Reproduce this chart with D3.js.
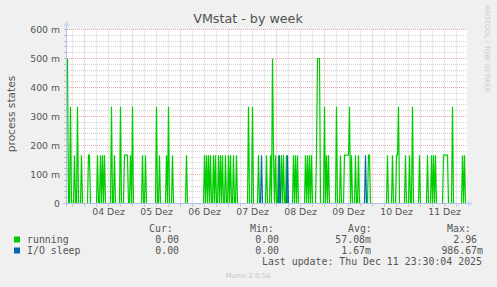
<!DOCTYPE html>
<meta charset="utf-8">
<style>

body {
  margin: 0;
  background: #f0f0f0;
}

text {
  font-family: "DejaVu Sans", sans-serif;
  fill: #555;
}

.legend text {
  font-family: "DejaVu Sans Mono", monospace;
  font-size: 9.9px;
  white-space: pre;
}

.grid--minor {
  stroke: #d2d2d2;
  stroke-width: 1px;
  stroke-dasharray: 1,1;
}

.grid--major {
  stroke: #eaa8a8;
  stroke-width: 1px;
  stroke-dasharray: 1,1;
}

.line {
  fill: none;
  stroke-width: 1.2px;
}

.axis-line {
  stroke: #b0bff0;
  stroke-width: 1px;
}

</style>
<svg width="497" height="287"></svg>
<script src="https://cdn.jsdelivr.net/npm/d3@7"></script>
<script>

// half-hour slots since the start of the graph, values in milli
var runningSlot = [0, 3, 7, 10, 14, 21, 22, 30, 33, 35, 37, 44, 47, 53, 57, 58, 59, 60, 63, 65,
  75, 78, 89, 92, 99, 101, 105, 119,
  137, 139, 141, 143, 146, 148, 151, 153, 155, 158, 161, 163, 166, 169,
  181, 185, 191, 199, 203, 205, 206, 208, 211, 214, 216, 219, 226, 228, 230, 238, 240, 242, 244,
  249, 250, 251, 252, 257, 259, 261, 269, 273, 277, 278, 279, 280, 281, 282, 284, 288, 291,
  301, 302, 320, 325, 329, 330, 331, 338, 342, 345, 352, 360, 364, 366, 368,
  376, 377, 378, 379, 380, 385, 395, 397];
var runningVal = [500, 333.3, 166.7, 333.3, 166.7, 166.7, 166.7, 166.7, 166.7, 166.7, 166.7, 333.3, 166.7, 333.3, 166.7, 166.7, 166.7, 166.7, 166.7, 333.3,
  166.7, 166.7, 333.3, 166.7, 166.7, 333.3, 166.7, 166.7,
  166.7, 166.7, 166.7, 166.7, 166.7, 166.7, 166.7, 166.7, 166.7, 166.7, 166.7, 166.7, 166.7, 166.7,
  333.3, 333.3, 166.7, 166.7, 166.7, 500, 166.7, 166.7, 166.7, 166.7, 166.7, 166.7, 166.7, 166.7, 166.7, 166.7, 166.7, 166.7, 166.7,
  166.7, 500, 500, 500, 333.3, 166.7, 166.7, 333.3, 166.7, 166.7, 166.7, 166.7, 166.7, 166.7, 333.3, 166.7, 166.7, 166.7,
  166.7, 166.7, 166.7, 166.7, 166.7, 166.7, 333.3, 166.7, 166.7, 333.3, 166.7, 166.7, 166.7, 166.7, 166.7,
  166.7, 166.7, 166.7, 166.7, 166.7, 333.3, 166.7, 166.7];

var ioSlot = [194, 212, 220, 298];
var ioVal = [166.7, 166.7, 166.7, 166.7];

var yTicks = [0, 0.1, 0.2, 0.3, 0.4, 0.5, 0.6];

var legendNames = ["running", "I/O sleep"];
var legendColors = ["#00cc00", "#0066b3"];
var curValues = ["0.00 ", "0.00 "];
var minValues = ["0.00 ", "0.00 "];
var avgValues = ["57.08m", " 1.67m"];
var maxValues = ["2.96 ", "986.67m"];

var nSlots = 400,
    slotMs = 30 * 60 * 1000,
    endTime = new Date(Date.UTC(2025, 11, 11, 23, 30)),
    startTime = new Date(endTime.getTime() - nSlots * slotMs);

var de = d3.timeFormatLocale({
  dateTime: "%A, der %e. %B %Y, %X", date: "%d.%m.%Y", time: "%H:%M:%S",
  periods: ["AM", "PM"],
  days: ["Sonntag", "Montag", "Dienstag", "Mittwoch", "Donnerstag", "Freitag", "Samstag"],
  shortDays: ["So", "Mo", "Di", "Mi", "Do", "Fr", "Sa"],
  months: ["Januar", "Februar", "März", "April", "Mai", "Juni", "Juli", "August", "September", "Oktober", "November", "Dezember"],
  shortMonths: ["Jan", "Feb", "Mär", "Apr", "Mai", "Jun", "Jul", "Aug", "Sep", "Okt", "Nov", "Dez"]
});

function series(slots, vals) {
  var byslot = new Map(slots.map(function(s, i) { return [s, vals[i] / 1000]; }));
  return d3.range(nSlots + 1).map(function(i) {
    return { date: new Date(startTime.getTime() + i * slotMs), value: byslot.get(i) || 0 };
  });
}

var running = series(runningSlot, runningVal),
    iosleep = series(ioSlot, ioVal);

var svg = d3.select("svg"),
    plotL = 67, plotR = 467, plotT = 29.5, plotB = 203.5;

var x = d3.scaleUtc()
    .domain([startTime, endTime])
    .range([plotL, plotR]);

var y = d3.scaleLinear()
    .domain([0, 0.6])
    .range([plotB, plotT]);

// canvas
svg.append("rect")
    .attr("x", plotL).attr("y", plotT - 0.5)
    .attr("width", plotR - plotL).attr("height", plotB - plotT)
    .attr("fill", "#fff");

// title
svg.append("text")
    .attr("x", 248).attr("y", 23)
    .attr("text-anchor", "middle")
    .style("font-size", "12.7px")
    .style("fill", "#505050")
    .text("VMstat - by week");

svg.append("text")
    .attr("transform", "translate(15,114) rotate(-90)")
    .attr("text-anchor", "middle")
    .style("font-size", "10.6px")
    .text("process states");

svg.append("text")
    .attr("transform", "translate(485,5) rotate(90)")
    .style("font-size", "6.8px")
    .style("fill", "#c8c8c8")
    .text("RRDTOOL / TOBI OETIKER");

// grid
var grid = svg.append("g");

d3.range(1, 31).forEach(function(k) {
  var v = k * 0.02,
      major = k % 5 === 0,
      yy = Math.round(y(v) - 0.5) + 0.5;
  grid.append("line")
      .attr("class", major ? "grid--major" : "grid--minor")
      .attr("x1", plotL).attr("x2", plotR)
      .attr("y1", yy).attr("y2", yy);
  grid.append("line")
      .attr("stroke", "#bbb")
      .attr("x1", plotL - 3).attr("x2", plotL - 1)
      .attr("y1", yy).attr("y2", yy);
});

x.ticks(d3.utcHour.every(6)).forEach(function(t) {
  var major = t.getUTCHours() === 0;
  var xx = Math.round(x(t)) + 0.5;
  grid.append("line")
      .attr("class", major ? "grid--major" : "grid--minor")
      .attr("x1", xx).attr("x2", xx)
      .attr("y1", plotT).attr("y2", plotB);
  grid.append("line")
      .attr("stroke", "#bbb")
      .attr("x1", xx).attr("x2", xx)
      .attr("y1", plotB + 1).attr("y2", plotB + 3);
});

// data
var line = d3.line()
    .x(function(d) { return x(d.date); })
    .y(function(d) { return y(d.value); });

var plot = svg.append("g").attr("transform", "translate(0.5,0)");

plot.append("path")
    .datum(running)
    .attr("class", "line")
    .attr("stroke", legendColors[0])
    .attr("d", line);

plot.append("path")
    .datum(iosleep)
    .attr("class", "line")
    .attr("stroke", legendColors[1])
    .attr("d", line);

// axes
svg.append("line")
    .attr("class", "axis-line")
    .attr("x1", plotL - 4).attr("x2", plotR + 2)
    .attr("y1", plotB).attr("y2", plotB);

svg.append("line")
    .attr("class", "axis-line")
    .attr("x1", plotL - 0.5).attr("x2", plotL - 0.5)
    .attr("y1", plotB + 3).attr("y2", plotT - 4);

svg.append("path")
    .attr("d", "M" + (plotL - 0.5) + "," + (plotT - 8.5) + "l-3,5h6z")
    .attr("fill", "#cfd6f8");

svg.append("path")
    .attr("d", "M" + (plotR + 6) + "," + plotB + "l-5,-3v6z")
    .attr("fill", "#cfd6f8");

var yAxis = svg.append("g")
    .attr("transform", "translate(" + plotL + ",0)")
    .call(d3.axisLeft(y)
      .tickValues(yTicks)
      .tickSize(0)
      .tickPadding(7)
      .tickFormat(function(d) { return d === 0 ? "0" : Math.round(d * 1000) + " m"; }));

var noons = d3.utcDay.range(startTime, endTime).map(function(d) { return d3.utcHour.offset(d, 12); })
    .filter(function(d) { return d > startTime && d < endTime; });

var xAxis = svg.append("g")
    .attr("transform", "translate(0," + plotB + ")")
    .call(d3.axisBottom(x)
      .tickValues(noons)
      .tickSize(0)
      .tickPadding(5)
      .tickFormat(de.utcFormat("%d %b")));

[xAxis, yAxis].forEach(function(a) {
  a.attr("font-family", null).attr("font-size", null);
  a.select(".domain").remove();
  a.selectAll("text").style("font-size", "9.3px").style("fill", "#555");
});

// legend
var legend = svg.append("g").attr("class", "legend");

[["Cur:", 149], ["Min:", 250], ["Avg:", 348], ["Max:", 447]].forEach(function(h) {
  legend.append("text").attr("x", h[1]).attr("y", 231.5).text(h[0]);
});

var cols = [[curValues, 185], [minValues, 285], [avgValues, 371], [maxValues, 483]];

legendNames.forEach(function(name, i) {
  var yy = 242.5 + i * 11;
  legend.append("rect")
      .attr("x", 14).attr("y", yy - 6)
      .attr("width", 6).attr("height", 6)
      .attr("fill", legendColors[i]);
  legend.append("text").attr("x", 27).attr("y", yy).text(name);
  cols.forEach(function(c) {
    legend.append("text")
        .attr("x", c[1]).attr("y", yy)
        .attr("text-anchor", "end")
        .text(c[0][i]);
  });
});

legend.append("text")
    .attr("x", 262).attr("y", 265)
    .text("Last update: Thu Dec 11 23:30:04 2025");

svg.append("text")
    .attr("x", 248).attr("y", 278)
    .attr("text-anchor", "middle")
    .style("font-size", "6.8px")
    .style("fill", "#c8c8c8")
    .text("Munin 2.0.56");

</script>
